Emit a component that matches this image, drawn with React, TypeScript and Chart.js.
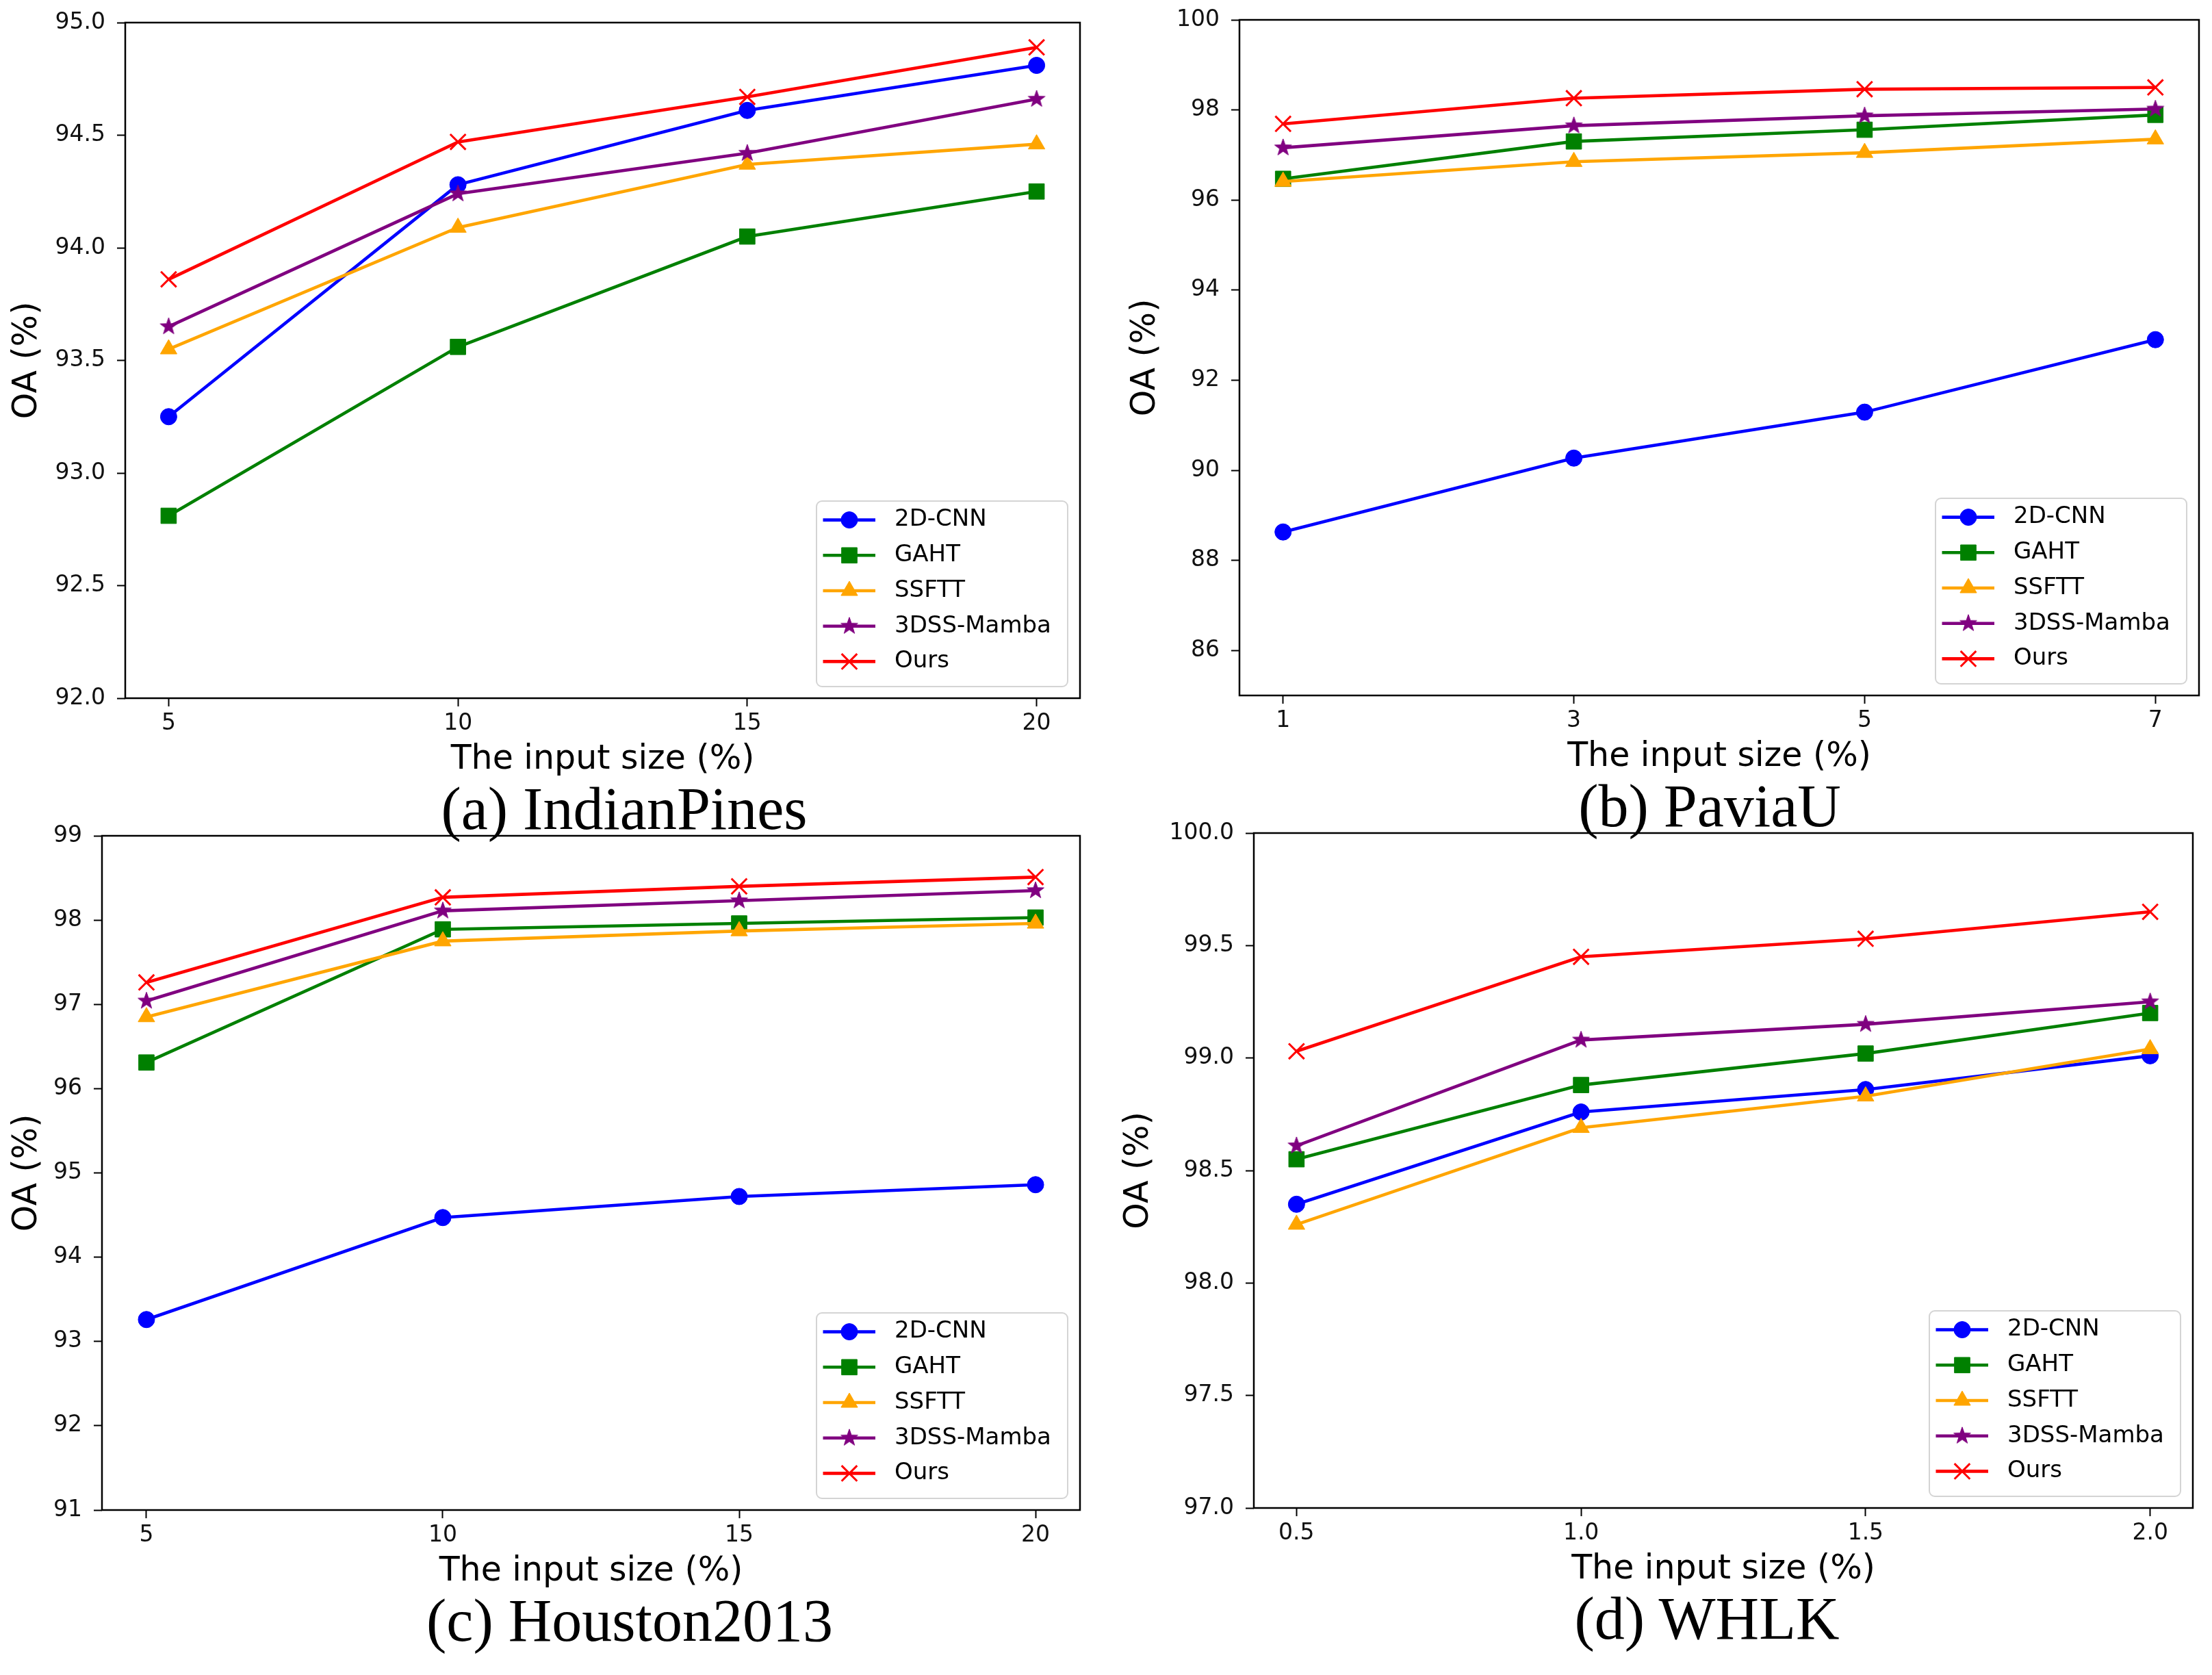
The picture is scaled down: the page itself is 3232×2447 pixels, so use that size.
import React, { useEffect, useRef } from 'react';
import { Chart, registerables } from 'chart.js';
import { drawPoint } from 'chart.js/helpers';

Chart.register(...registerables);

// ---- data ----
const methods = ['2D-CNN', 'GAHT', 'SSFTT', '3DSS-Mamba', 'Ours'];

const indianX = [5, 10, 15, 20];
const indianCnn = [93.25, 94.28, 94.61, 94.81];
const indianGaht = [92.81, 93.56, 94.05, 94.25];
const indianSsftt = [93.55, 94.09, 94.37, 94.46];
const indianMamba = [93.65, 94.24, 94.42, 94.66];
const indianOurs = [93.86, 94.47, 94.67, 94.89];
const indianYTicks = [92.0, 92.5, 93.0, 93.5, 94.0, 94.5, 95.0];

const paviaX = [1, 3, 5, 7];
const paviaCnn = [88.63, 90.27, 91.29, 92.9];
const paviaGaht = [96.47, 97.3, 97.56, 97.89];
const paviaSsftt = [96.41, 96.85, 97.05, 97.35];
const paviaMamba = [97.16, 97.65, 97.87, 98.02];
const paviaOurs = [97.69, 98.26, 98.46, 98.5];
const paviaYTicks = [86, 88, 90, 92, 94, 96, 98, 100];

const houstonX = [5, 10, 15, 20];
const houstonCnn = [93.26, 94.47, 94.72, 94.86];
const houstonGaht = [96.31, 97.89, 97.96, 98.03];
const houstonSsftt = [96.85, 97.75, 97.87, 97.96];
const houstonMamba = [97.04, 98.11, 98.23, 98.35];
const houstonOurs = [97.26, 98.27, 98.4, 98.51];
const houstonYTicks = [91, 92, 93, 94, 95, 96, 97, 98, 99];

const whlkX = [0.5, 1.0, 1.5, 2.0];
const whlkCnn = [98.35, 98.76, 98.86, 99.01];
const whlkGaht = [98.55, 98.88, 99.02, 99.2];
const whlkSsftt = [98.26, 98.69, 98.83, 99.04];
const whlkMamba = [98.61, 99.08, 99.15, 99.25];
const whlkOurs = [99.03, 99.45, 99.53, 99.65];
const whlkYTicks = [97.0, 97.5, 98.0, 98.5, 99.0, 99.5, 100.0];

// ---- styles ----
const FONT = 'DejaVu Sans';
const colors = ['#0000ff', '#008000', '#ffa500', '#800080', '#ff0000'];

function makeStar(color: string, r: number) {
    const size = Math.ceil(r * 2 + 4);
    const c = document.createElement('canvas');
    c.width = size;
    c.height = size;
    const g = c.getContext('2d')!;
    g.beginPath();
    for (let k = 0; k < 10; k++) {
        const rr = k % 2 === 0 ? r : r * 0.4;
        const ang = -Math.PI / 2 + (k * Math.PI) / 5;
        const px = size / 2 + rr * Math.cos(ang);
        const py = size / 2 + rr * Math.sin(ang);
        if (k === 0) g.moveTo(px, py);
        else g.lineTo(px, py);
    }
    g.closePath();
    g.fillStyle = color;
    g.fill();
    g.strokeStyle = color;
    g.lineWidth = 1;
    g.stroke();
    return c;
}

const starImg = makeStar(colors[3], 13);

const markers: any[] = [
    { pointStyle: 'circle', pointRadius: 12, pointBorderWidth: 1 },
    { pointStyle: 'rect', pointRadius: 16, pointBorderWidth: 1 },
    { pointStyle: 'triangle', pointRadius: 14, pointBorderWidth: 1 },
    { pointStyle: starImg, pointRadius: 13, pointBorderWidth: 0 },
    { pointStyle: 'crossRot', pointRadius: 16, pointBorderWidth: 3 },
];

interface PanelSpec {
    key: string;
    caption: string;
    x: number[];
    series: number[][];
    xMin: number;
    xMax: number;
    xDec: number;
    yMin: number;
    yMax: number;
    yTicks: number[];
    yDec: number;
    // canvas rect and plot box
    left: number;
    top: number;
    w: number;
    h: number;
    plotL: number;
    plotT: number;
    plotR: number;
    plotB: number;
    yTitleX: number;
    capX: number;
}

const panels: PanelSpec[] = [
    {
        key: 'a', caption: '(a) IndianPines', x: indianX,
        series: [indianCnn, indianGaht, indianSsftt, indianMamba, indianOurs],
        xMin: 4.25, xMax: 20.75, xDec: 0, yMin: 92, yMax: 95, yTicks: indianYTicks, yDec: 1,
        left: 0, top: 0, w: 1600, h: 1150, plotL: 183, plotT: 33, plotR: 1578, plotB: 1020,
        yTitleX: 40, capX: 912,
    },
    {
        key: 'b', caption: '(b) PaviaU', x: paviaX,
        series: [paviaCnn, paviaGaht, paviaSsftt, paviaMamba, paviaOurs],
        xMin: 0.7, xMax: 7.3, xDec: 0, yMin: 85, yMax: 100, yTicks: paviaYTicks, yDec: 0,
        left: 1616, top: 0, w: 1616, h: 1146, plotL: 1811, plotT: 29, plotR: 3214, plotB: 1016,
        yTitleX: 1674, capX: 2498,
    },
    {
        key: 'c', caption: '(c) Houston2013', x: houstonX,
        series: [houstonCnn, houstonGaht, houstonSsftt, houstonMamba, houstonOurs],
        xMin: 4.25, xMax: 20.75, xDec: 0, yMin: 91, yMax: 99, yTicks: houstonYTicks, yDec: 0,
        left: 0, top: 1190, w: 1600, h: 1146, plotL: 149, plotT: 1221, plotR: 1578, plotB: 2206,
        yTitleX: 40, capX: 920,
    },
    {
        key: 'd', caption: '(d) WHLK', x: whlkX,
        series: [whlkCnn, whlkGaht, whlkSsftt, whlkMamba, whlkOurs],
        xMin: 0.425, xMax: 2.075, xDec: 1, yMin: 97, yMax: 100, yTicks: whlkYTicks, yDec: 1,
        left: 1616, top: 1190, w: 1616, h: 1143, plotL: 1832, plotT: 1217, plotR: 3204, plotB: 2203,
        yTitleX: 1664, capX: 2494,
    },
];

// matplotlib-like frame around the axes
const framePlugin = {
    id: 'frame',
    afterDatasetsDraw(chart: any) {
        const { ctx, chartArea: a } = chart;
        ctx.save();
        ctx.strokeStyle = '#000';
        ctx.lineWidth = 2.5;
        ctx.strokeRect(a.left, a.top, a.right - a.left, a.bottom - a.top);
        ctx.restore();
    },
};

// legend with line + marker handles, lower right
const legendPlugin = {
    id: 'mplLegend',
    afterDraw(chart: any) {
        const { ctx, chartArea: a } = chart;
        const w = 367;
        const h = 271;
        const x0 = a.right - 18 - w;
        const y0 = a.bottom - 17 - h;
        ctx.save();
        ctx.beginPath();
        ctx.roundRect(x0, y0, w, h, 8);
        ctx.fillStyle = 'rgba(255,255,255,0.8)';
        ctx.fill();
        ctx.strokeStyle = '#d4d4d4';
        ctx.lineWidth = 2;
        ctx.stroke();
        chart.data.datasets.forEach((ds: any, i: number) => {
            const cy = y0 + 27.6 + i * 51.7;
            ctx.strokeStyle = ds.borderColor;
            ctx.lineWidth = ds.borderWidth;
            ctx.beginPath();
            ctx.moveTo(x0 + 9.5, cy);
            ctx.lineTo(x0 + 86, cy);
            ctx.stroke();
            ctx.fillStyle = ds.pointBackgroundColor;
            ctx.strokeStyle = ds.pointBorderColor;
            ctx.lineWidth = ds.pointBorderWidth;
            drawPoint(ctx, {
                pointStyle: ds.pointStyle,
                radius: ds.pointRadius,
                rotation: 0,
                borderWidth: ds.pointBorderWidth,
            } as any, x0 + 48, cy);
            ctx.fillStyle = '#000';
            ctx.font = `34px "${FONT}"`;
            ctx.textBaseline = 'middle';
            ctx.textAlign = 'left';
            ctx.fillText(ds.label, x0 + 114, cy);
        });
        ctx.restore();
    },
};

const Panel: React.FC<{ p: PanelSpec }> = ({ p }) => {
    const ref = useRef<HTMLCanvasElement>(null);

    useEffect(() => {
        if (!ref.current) return;
        const yWidth = p.plotL - p.left;
        const xHeight = p.top + p.h - p.plotB;

        const datasets = p.series.map((ys, i) => ({
            label: methods[i],
            data: p.x.map((x, j) => ({ x, y: ys[j] })),
            borderColor: colors[i],
            backgroundColor: colors[i],
            borderWidth: 4.6,
            pointBackgroundColor: colors[i],
            pointBorderColor: colors[i],
            tension: 0,
            clip: false as any,
            order: methods.length - i,
            ...markers[i],
        }));

        const tickFont = { family: FONT, size: 33 };
        const titleFont = { family: FONT, size: 49 };
        const grid = {
            display: true,
            drawOnChartArea: false,
            drawTicks: true,
            tickLength: 12,
            tickWidth: 2,
            tickColor: '#000',
        };

        const chart = new Chart(ref.current, {
            type: 'line',
            data: { datasets },
            options: {
                animation: false,
                responsive: false,
                devicePixelRatio: 1,
                layout: {
                    padding: { top: p.plotT - p.top, right: p.left + p.w - p.plotR, left: 0, bottom: 0 },
                },
                plugins: { legend: { display: false }, tooltip: { enabled: false } },
                scales: {
                    x: {
                        type: 'linear',
                        min: p.xMin,
                        max: p.xMax,
                        afterBuildTicks: (s: any) => {
                            s.ticks = p.x.map((v) => ({ value: v }));
                        },
                        afterFit: (s: any) => {
                            s.height = xHeight;
                            s.paddingLeft = 0;
                            s.paddingRight = 0;
                        },
                        ticks: {
                            font: tickFont,
                            color: '#111',
                            padding: 6,
                            maxRotation: 0,
                            autoSkip: false,
                            callback: (v: any) => Number(v).toFixed(p.xDec),
                        },
                        grid,
                        border: { display: false },
                        title: {
                            display: true,
                            text: 'The input size (%)',
                            font: titleFont,
                            color: '#000',
                            padding: { top: 0, bottom: 10 },
                        },
                    },
                    y: {
                        type: 'linear',
                        min: p.yMin,
                        max: p.yMax,
                        afterBuildTicks: (s: any) => {
                            s.ticks = p.yTicks.map((v) => ({ value: v }));
                        },
                        afterFit: (s: any) => {
                            s.width = yWidth;
                            s.paddingTop = 0;
                            s.paddingBottom = 0;
                        },
                        ticks: {
                            font: tickFont,
                            color: '#111',
                            padding: 17,
                            autoSkip: false,
                            callback: (v: any) => Number(v).toFixed(p.yDec),
                        },
                        grid,
                        border: { display: false },
                        title: {
                            display: true,
                            text: 'OA (%)',
                            font: titleFont,
                            color: '#000',
                            padding: { top: p.yTitleX - p.left - 29.4, bottom: 0 },
                        },
                    },
                },
            } as any,
            plugins: [framePlugin, legendPlugin],
        });

        return () => {
            chart.destroy();
        };
    }, [p]);

    return (
        <canvas
            ref={ref}
            width={p.w}
            height={p.h}
            style={{ position: 'absolute', left: p.left, top: p.top, width: p.w, height: p.h, display: 'block' }}
        />
    );
};

export default function App() {
    return (
        <div
            style={{
                position: 'fixed',
                left: 0,
                top: 0,
                width: 3232,
                height: 2447,
                background: '#fff',
                overflow: 'hidden',
            }}
        >
            {panels.map((p) => (
                <Panel key={p.key} p={p} />
            ))}
            {panels.map((p) => (
                <div
                    key={'cap' + p.key}
                    style={{
                        position: 'absolute',
                        left: p.capX - 500,
                        width: 1000,
                        top: p.plotB + 192 - 74,
                        textAlign: 'center',
                        fontFamily: '"Liberation Serif", "Times New Roman", serif',
                        fontSize: 88,
                        lineHeight: '88px',
                        color: '#000',
                        whiteSpace: 'nowrap',
                    }}
                >
                    {p.caption}
                </div>
            ))}
        </div>
    );
}
